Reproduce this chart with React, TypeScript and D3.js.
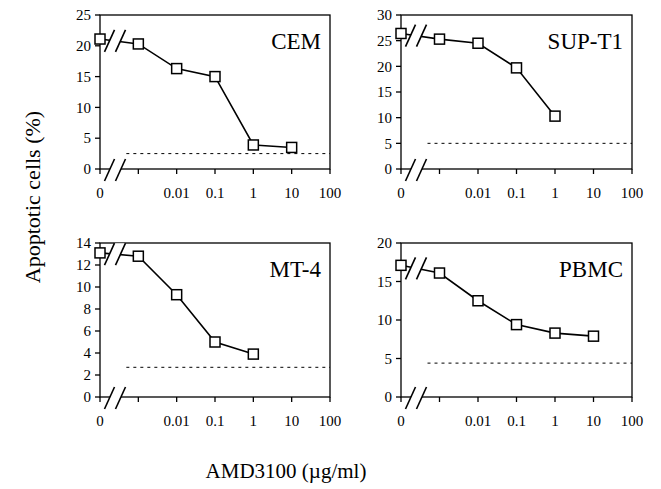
import React from 'react';
import * as d3 from 'd3';

const width = 661;
const height = 489;

// AMD3100 doses (µg/ml); 0 is drawn one decade left of 0.001
const doses = [0, 0.001, 0.01, 0.1, 1, 10];
const xTickValues = [0, 0.001, 0.01, 0.1, 1, 10, 100];
const xTickLabels = ['0', '', '0.01', '0.1', '1', '10', '100'];

const panelNames = ['CEM', 'SUP-T1', 'MT-4', 'PBMC'];
const cemValues = [21.1, 20.3, 16.3, 15.0, 3.9, 3.5];
const supT1Values = [26.4, 25.3, 24.5, 19.7, 10.3];
const mt4Values = [13.1, 12.8, 9.3, 5.0, 3.9];
const pbmcValues = [17.1, 16.1, 12.5, 9.4, 8.3, 7.9];
const baselineValues = [2.5, 5.0, 2.7, 4.4];
const yMaxValues = [25, 30, 14, 20];
const yStepValues = [5, 5, 2, 5];

const seriesValues = [cemValues, supT1Values, mt4Values, pbmcValues];

const font = 'Liberation Serif, DejaVu Serif, serif';

const panelBoxes = [
  { x0: 100, x1: 330, y0: 15, y1: 169 },
  { x0: 401, x1: 632, y0: 15, y1: 169 },
  { x0: 100, x1: 330, y0: 243, y1: 397 },
  { x0: 401, x1: 632, y0: 243, y1: 397 },
];

const zeroPos = 1e-4;

const BreakMark = ({ cx, cy }: { cx: number; cy: number }) => {
  const h = 11;
  const w = 5;
  const sep = 5.5;
  const gap = `M${cx - sep - w},${cy + h} L${cx - sep + w},${cy - h} L${cx + sep + w},${cy - h} L${cx + sep - w},${cy + h} Z`;
  return (
    <g>
      <path d={gap} fill="#fff" stroke="none" />
      {[-sep, sep].map((o) => (
        <line key={o} x1={cx + o - w} y1={cy + h} x2={cx + o + w} y2={cy - h}
          stroke="#000" strokeWidth={1.6} />
      ))}
    </g>
  );
};

const Panel = ({ idx }: { idx: number }) => {
  const box = panelBoxes[idx];
  const values = seriesValues[idx];
  const x = d3.scaleLog().domain([zeroPos, 100]).range([box.x0, box.x1]);
  const xv = (d: number) => x(d === 0 ? zeroPos : d);
  const y = d3.scaleLinear().domain([0, yMaxValues[idx]]).range([box.y1, box.y0]);
  const yTicks = d3.range(0, yMaxValues[idx] + 0.001, yStepValues[idx]);
  const pts = values.map((v, i) => [xv(doses[i]), y(v)] as [number, number]);
  const line = d3.line();

  const bx = box.x0 + 15;
  const t = (bx - pts[0][0]) / (pts[1][0] - pts[0][0]);
  const by = pts[0][1] + t * (pts[1][1] - pts[0][1]);
  const base = y(baselineValues[idx]);

  return (
    <g>
      <line x1={xv(0.001) - 12} x2={box.x1} y1={base} y2={base}
        stroke="#000" strokeWidth={1} strokeDasharray="3,4" />
      <rect x={box.x0} y={box.y0} width={box.x1 - box.x0} height={box.y1 - box.y0}
        fill="none" stroke="#000" strokeWidth={1.3} />
      {yTicks.map((v) => (
        <g key={v}>
          <line x1={box.x0 - 5} x2={box.x0} y1={y(v)} y2={y(v)} stroke="#000" strokeWidth={1.3} />
          <text x={box.x0 - 9} y={y(v)} dy="0.35em" textAnchor="end" fontSize={15}
            style={{ fontFamily: font }}>{v}</text>
        </g>
      ))}
      {xTickValues.map((d, i) => (
        <g key={i}>
          <line x1={xv(d)} x2={xv(d)} y1={box.y1} y2={box.y1 + 5} stroke="#000" strokeWidth={1.3} />
          <text x={xv(d)} y={box.y1 + 29} textAnchor="middle" fontSize={15}
            style={{ fontFamily: font }}>{xTickLabels[i]}</text>
        </g>
      ))}
      <path d={line(pts) || ''} fill="none" stroke="#000" strokeWidth={1.6} />
      <BreakMark cx={bx} cy={by} />
      <BreakMark cx={bx} cy={box.y1 + 1} />
      {pts.map((p, i) => (
        <rect key={i} x={p[0] - 5} y={p[1] - 5} width={10} height={10}
          fill="#fff" stroke="#000" strokeWidth={1.5} />
      ))}
      <text x={box.x1 - 9} y={box.y0 + 34} textAnchor="end" fontSize={23}
        style={{ fontFamily: font }}>
        {panelNames[idx]}
      </text>
    </g>
  );
};

export default function App() {
  return (
    <svg width={width} height={height} style={{ position: 'absolute', left: 0, top: 0, background: '#fff' }}>
      {panelBoxes.map((_, i) => <Panel key={i} idx={i} />)}
      <text transform="translate(40,197) rotate(-90)" textAnchor="middle" fontSize={22}
        style={{ fontFamily: font }}>
        Apoptotic cells (%)
      </text>
      <text x={286} y={478} textAnchor="middle" fontSize={21} style={{ fontFamily: font }}>
        AMD3100 (µg/ml)
      </text>
    </svg>
  );
}
